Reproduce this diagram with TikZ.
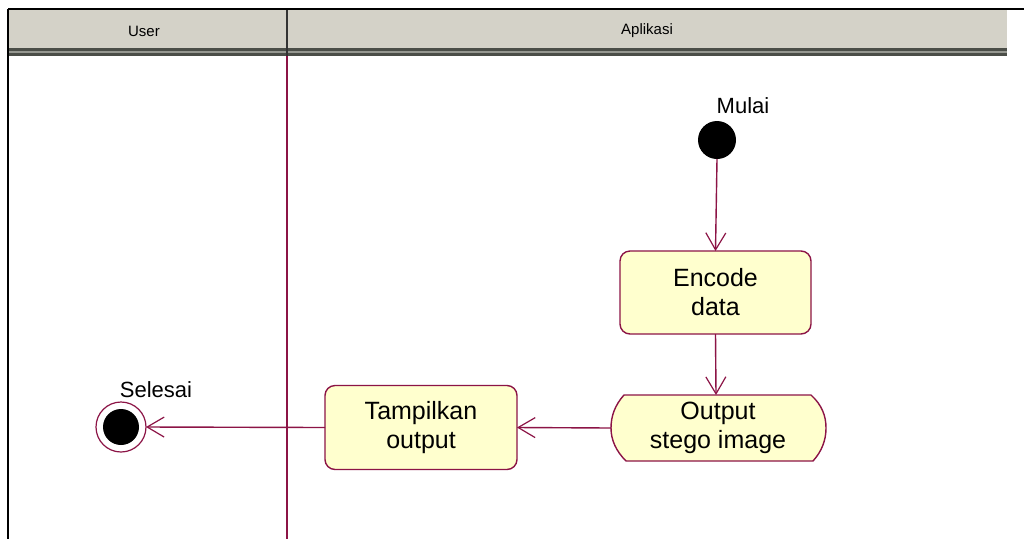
\documentclass[tikz,border=0pt]{standalone}
\usepackage{fontspec}
\setmainfont{Liberation Sans}
\usetikzlibrary{arrows.meta}
\definecolor{flow}{RGB}{140,20,70}
\definecolor{actfill}{RGB}{255,255,206}
\definecolor{band}{RGB}{212,210,200}
\definecolor{bandedge}{RGB}{75,78,72}
\definecolor{bandmid}{RGB}{150,152,145}
\tikzset{
  x=1pt, y=-1pt,
  every node/.style={inner sep=0pt, outer sep=0pt},
  action/.style={draw=flow, fill=actfill, line width=1.4pt, rounded corners=10pt,
    align=center, font=\fontsize{25}{29}\selectfont},
  flowline/.style={draw=flow, line width=1.4pt,
    -{Straight Barb[length=17pt, width=20pt, line width=1.2pt]}},
  lanehead/.style={font=\fontsize{15}{18}\selectfont},
  statelabel/.style={font=\fontsize{22}{26}\selectfont},
}
\begin{document}
\begin{tikzpicture}
\useasboundingbox[fill=white] (0,0) rectangle (1024,539);

% swimlane header band
\fill[band] (8,10) rectangle (1007,48);
\fill[bandedge] (8,48) rectangle (1007,56);
\draw[bandmid, line width=1.2pt] (8,52) -- (1007,52);
\draw[black, line width=1.4pt] (8,9) -- (1024,9);
\draw[black, line width=1.4pt] (8,9) -- (8,539);

% lane divider
\draw[black!80, line width=1.4pt] (287,10) -- (287,56);
\draw[flow, line width=1.4pt] (287,56) -- (287,539);

\node[lanehead] (laneuser) at (144,31) {User};
\node[lanehead] (laneapp) at (647,31) {Aplikasi};

% start
\node[circle, fill=black, minimum size=38pt] (start) at (717,140) {};
\node[statelabel, anchor=south] (startlbl) at (743,114) {Mulai};

% actions
\node[action, minimum width=191pt, minimum height=83pt] (encode) at (715.5,292.5) {Encode\\data};
\node[action, minimum width=192pt, minimum height=84pt] (show) at (421,427.5) {Tampilkan\\output};

% output signal shape with convex ends
\coordinate (outL) at (611,428);
\coordinate (outR) at (826,428);
\coordinate (outT) at (716,395);
\fill[actfill] (624,395) -- (811,395) .. controls (822,405) and (826,416) .. (826,428)
  .. controls (826,440) and (822,451) .. (813,461) -- (626,461)
  .. controls (616,451) and (611,440) .. (611,428)
  .. controls (611,416) and (615,405) .. cycle;
\draw[flow, line width=1.4pt] (624,395) -- (811,395) .. controls (822,405) and (826,416) .. (826,428)
  .. controls (826,440) and (822,451) .. (813,461) -- (626,461)
  .. controls (616,451) and (611,440) .. (611,428)
  .. controls (611,416) and (615,405) .. cycle;
\node[align=center, font=\fontsize{25}{29}\selectfont] (output) at (718,428) {Output\\stego image};

% end
\node[circle, draw=flow, fill=white, line width=1.2pt, minimum size=50pt] (finish) at (121,427) {};
\node[circle, fill=black, minimum size=36pt] (finishdot) at (121,427) {};
\node[statelabel, anchor=south] (endlbl) at (156,398) {Selesai};

% flows
\draw[flowline] (start.south) -- (encode.north);
\draw[flowline] (encode.south) -- (outT);
\draw[flowline] (outL) -- (show.east);
\draw[flowline] (show.west) -- (finish.east);
\end{tikzpicture}
\end{document}
